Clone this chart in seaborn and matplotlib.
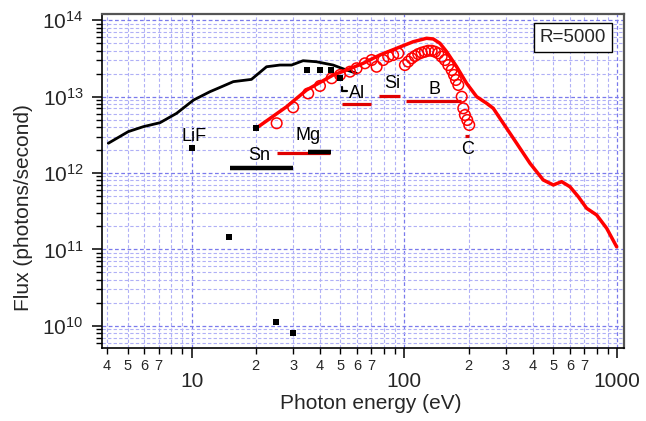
import numpy as np
import pandas as pd
import matplotlib
matplotlib.use("Agg")
import matplotlib.pyplot as plt
import matplotlib.ticker as mticker
import seaborn as sns

# ---------------- data ----------------
black_energy = [4.06, 5.04, 5.93, 7.10, 8.5, 10.2, 12.2, 13.6, 15.7, 19.1, 22.5, 26.0,
                29.5, 33.4, 38.6, 46.2, 53.4, 59.6]
black_flux = [2.45e12, 3.48e12, 4.04e12, 4.55e12, 6.04e12, 9.0e12, 1.16e13, 1.32e13,
              1.57e13, 1.68e13, 2.46e13, 2.59e13, 2.59e13, 2.95e13, 2.86e13, 2.59e13,
              2.23e13, 2.02e13]

square_energy = [10, 15, 20, 25, 30, 35, 40, 45, 50]
square_flux = [2.1e12, 1.44e11, 3.85e12, 1.13e10, 7.98e9, 2.23e13, 2.23e13, 2.23e13, 1.74e13]

red_energy = [20.1, 27.96, 34.7, 46.3, 53.5, 64.0, 76.7, 91.9, 110, 127, 136.6, 146.8,
              157.9, 176, 196, 218.5, 243.4, 261.4, 291.2, 336.7, 388.9, 449, 500.5,
              548, 599.5, 655.7, 718, 800, 891.5, 993.6]
red_flux = [3.85e12, 7.38e12, 1.22e13, 1.92e13, 2.23e13, 2.73e13, 3.51e13, 4.29e13,
            5.23e13, 5.8e13, 5.68e13, 4.99e13, 3.87e13, 2.46e13, 1.49e13, 9.97e12,
            8.17e12, 7.03e12, 4.48e12, 2.45e12, 1.34e12, 8.1e11, 6.97e11, 7.7e11,
            6.6e11, 4.9e11, 3.45e11, 2.82e11, 1.89e11, 1.08e11]

circle_energy = [25.1, 30.0, 35.3, 40.1, 45.5, 49.8, 55.5, 59.6, 65.2, 70.1, 74.0, 79.5,
                 83.9, 88.5, 93.5, 100.5, 104.2, 108.1, 112, 116.1, 120.4, 124.8, 129.4,
                 134.2, 139.1, 144.2, 149.6, 155, 160.7, 166.7, 170.9, 174.6, 179.1,
                 185.8, 189, 192.4, 197.3, 201.6]
circle_flux = [4.48e12, 7.24e12, 1.1e13, 1.38e13, 1.74e13, 1.92e13, 2.12e13, 2.35e13,
               2.73e13, 3.01e13, 2.46e13, 3.01e13, 3.33e13, 3.5e13, 3.69e13, 2.59e13,
               2.87e13, 3.17e13, 3.4e13, 3.61e13, 3.76e13, 3.87e13, 3.99e13, 3.99e13,
               3.87e13, 3.69e13, 3.33e13, 3.01e13, 2.59e13, 2.23e13, 1.92e13, 1.65e13,
               1.42e13, 9.97e12, 7.03e12, 5.74e12, 4.94e12, 4.25e12]

bar_name = ["Sn", "Sn/Mg", "Mg", "Al", "Si", "B", "C"]
bar_start = [15.1, 25.1, 35.3, 50.7, 76.0, 101.6, 192.0]
bar_end = [30.0, 44.7, 45.0, 70.0, 95.0, 183.6, 200.0]
bar_flux = [1.17e12, 1.81e12, 1.9e12, 7.9e12, 1.03e13, 8.75e12, 3.05e12]
bar_black = [True, False, True, False, False, False, False]

al_mark_energy = [51.0, 51.0, 53.8]
al_mark_flux = [1.32e13, 1.19e13, 1.19e13]

label_text = ["LiF", "Sn", "Mg", "Al", "Si", "B", "C"]
label_energy = [10.25, 20.7, 35.3, 59.6, 87.9, 139, 198]
label_flux = [2.96e12, 1.72e12, 3.08e12, 1.1e13, 1.49e13, 1.25e13, 2.04e12]

x_major = [10, 100, 1000]
y_major = [1e10, 1e11, 1e12, 1e13, 1e14]

# ---------------- style ----------------
sns.set_theme(style="white")
plt.rcParams["font.family"] = ["Liberation Sans", "DejaVu Sans"]
plt.rcParams["mathtext.fontset"] = "custom"
plt.rcParams["mathtext.rm"] = "Liberation Sans"
plt.rcParams["mathtext.default"] = "regular"

fig = plt.figure(figsize=(6.46, 4.21), dpi=100)
ax = fig.add_axes([0.1574, 0.1727, 0.8078, 0.7933])
ax.set_xscale("log")
ax.set_yscale("log")
ax.set_xlim(3.78, 1070)
ax.set_ylim(5.07e9, 1.195e14)

# grid
ax.grid(True, which="major", color="#7a7aec", linestyle=(0, (3, 2)), linewidth=0.9)
ax.grid(True, which="minor", color="#b0b0f6", linestyle=(0, (3, 2)), linewidth=0.8)
ax.set_axisbelow(True)

black_df = pd.DataFrame({"energy": black_energy, "flux": black_flux})
red_df = pd.DataFrame({"energy": red_energy, "flux": red_flux})
circ_df = pd.DataFrame({"energy": circle_energy, "flux": circle_flux})
sq_df = pd.DataFrame({"energy": square_energy, "flux": square_flux})

sns.lineplot(data=black_df, x="energy", y="flux", ax=ax, color="black", lw=2.0,
             sort=False, estimator=None)
sns.lineplot(data=red_df, x="energy", y="flux", ax=ax, color="#ff0000", lw=2.5,
             sort=False, estimator=None)
sns.scatterplot(data=circ_df, x="energy", y="flux", ax=ax, marker="o", s=58,
                facecolors="none", edgecolor="#ff0000", linewidth=1.1, zorder=4)
sns.scatterplot(data=sq_df, x="energy", y="flux", ax=ax, marker="s", s=18,
                color="black", edgecolor="black", linewidth=0, zorder=5)

for x0, x1, yv, blk in zip(bar_start, bar_end, bar_flux, bar_black):
    ax.hlines(yv, x0, x1, color="black" if blk else "#e00000",
              lw=(3.2 if blk and x1 - x0 < 15 else 2.3), zorder=3)
ax.plot(al_mark_energy, al_mark_flux, color="black", lw=1.6, zorder=3)

for t, xv, yv in zip(label_text, label_energy, label_flux):
    ax.text(xv, yv, t, ha="center", va="center", fontsize=13, color="black", zorder=6)

ax.text(0.9027, 0.9305, "R=5000", transform=ax.transAxes, ha="center", va="center",
        fontsize=13.5, zorder=7,
        bbox=dict(boxstyle="square,pad=0.3", facecolor="white", edgecolor="black", lw=1.0))

# ticks
ax.xaxis.set_major_locator(mticker.FixedLocator(x_major))
ax.xaxis.set_major_formatter(mticker.FixedFormatter([str(v) for v in x_major]))
ax.xaxis.set_minor_locator(mticker.LogLocator(base=10, subs=np.arange(2, 10)))


def minor_fmt(v, pos):
    d = int(round(v / 10 ** np.floor(np.log10(v) + 1e-9)))
    return str(d) if 2 <= d <= 7 else ""


ax.xaxis.set_minor_formatter(mticker.FuncFormatter(minor_fmt))
ax.yaxis.set_major_locator(mticker.FixedLocator(y_major))
ax.yaxis.set_major_formatter(mticker.LogFormatterMathtext())
ax.yaxis.set_minor_locator(mticker.LogLocator(base=10, subs=np.arange(2, 10)))
ax.yaxis.set_minor_formatter(mticker.NullFormatter())

ax.tick_params(axis="x", which="major", direction="out", length=7, width=1.1,
               labelsize=15, pad=10, bottom=True, color="black")
ax.tick_params(axis="x", which="minor", direction="out", length=4.5, width=1.0,
               labelsize=10.5, pad=3, bottom=True, color="black")
ax.tick_params(axis="y", which="major", direction="out", length=7, width=1.1,
               labelsize=15, pad=6, left=True, color="black")
ax.tick_params(axis="y", which="minor", direction="out", length=4.5, width=1.0,
               left=True, color="black")

for side in ["left", "bottom"]:
    ax.spines[side].set_color("black")
    ax.spines[side].set_linewidth(1.2)
for side in ["top", "right"]:
    ax.spines[side].set_color("#555555")
    ax.spines[side].set_linewidth(1.6)

ax.set_xlabel("Photon energy (eV)", fontsize=15)
ax.set_ylabel("Flux (photons/second)", fontsize=15)
ax.xaxis.set_label_coords(0.516, -0.138)
ax.yaxis.set_label_coords(-0.132, 0.42)

fig.savefig("out.png", dpi=100)
